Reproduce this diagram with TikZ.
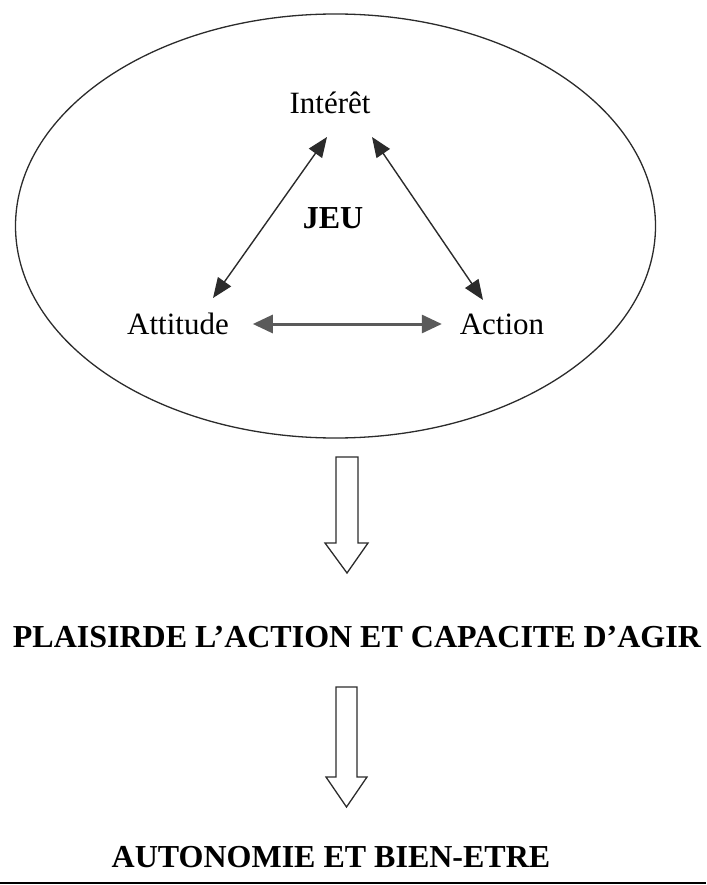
\documentclass[tikz,border=0pt]{standalone}
\usepackage{fontspec}
\setmainfont{Liberation Serif}
\usetikzlibrary{arrows.meta}
\definecolor{JEUcolTrait}{HTML}{2b2b2b}
\definecolor{JEUcolFleche}{HTML}{5a5a5a}

\begin{document}
\begin{tikzpicture}[y=-1pt, x=1pt, inner sep=0pt, outer sep=0pt,
  mot/.style={font=\fontsize{31}{36}\selectfont, text height=20pt, text depth=0pt},
  titre/.style={font=\fontsize{32}{38}\selectfont\bfseries, text height=21pt, text depth=0pt},
  lien/.style={draw=JEUcolTrait, line width=1.4pt,
    {Triangle[length=20pt,width=16pt]}-{Triangle[length=20pt,width=16pt]}}]
  \useasboundingbox (0,0) rectangle (706,885);
  \path[draw=JEUcolTrait, line width=1.3pt] (335.5,226) ellipse [x radius=320pt, y radius=212pt];
  \node[mot] (interet) at (330,104) {Intérêt};
  \node[titre] (jeu) at (333,218) {JEU};
  \node[mot] (attitude) at (178,324) {Attitude};
  \node[mot] (action) at (502,324) {Action};
  \draw[lien] ([shift={(35pt,16pt)}]attitude.north) -- ([shift={(-3pt,-23pt)}]interet.south);
  \draw[lien] ([shift={(42pt,-23pt)}]interet.south) -- ([shift={(-19pt,14pt)}]action.north);
  \draw[lien, line width=3pt, draw=JEUcolFleche,
    {Triangle[length=20pt,width=18pt]}-{Triangle[length=20pt,width=18pt]}]
    ([xshift=24pt]attitude.east) -- ([xshift=-18pt]action.west);
  \path[draw=JEUcolTrait, line join=miter, line width=1.3pt] (336,457) -- (358,457) -- (358,543)
    -- (368,543) -- (347,573) -- (325,543) -- (336,543) -- cycle;
  \node[titre] (plaisir) at (357,637) {PLAISIRDE L’ACTION ET CAPACITE D’AGIR};
  \path[draw=JEUcolTrait, line join=miter, line width=1.3pt] (336,687) -- (357,687) -- (357,777)
    -- (367,777) -- (346.5,807) -- (326,777) -- (336,777) -- cycle;
  \node[titre] (autonomie) at (331,857) {AUTONOMIE ET BIEN-ETRE};
  \path[draw=black, line width=2.5pt] (0,883) -- (706,883);
\end{tikzpicture}
\end{document}
